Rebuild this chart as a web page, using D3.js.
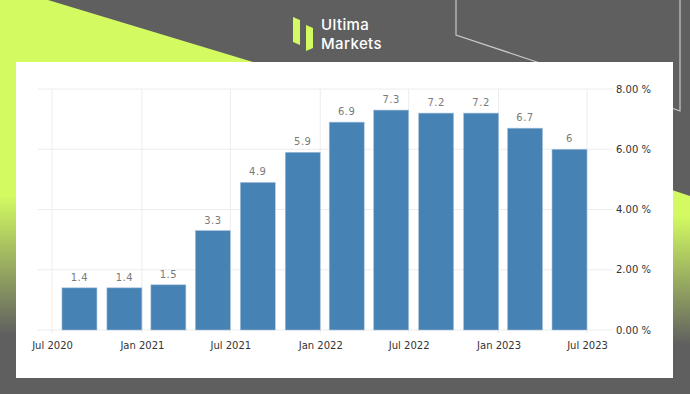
<!doctype html>
<html>
<head>
<script src="https://cdn.jsdelivr.net/npm/d3@7"></script>
<style>
  body { margin: 0; background: #5f5f5f; }
  svg { display: block; }
  .axis text { font-family: "DejaVu Sans", sans-serif; font-size: 10px; fill: #333; }
  .axis .domain { display: none; }
</style>
</head>
<body>
<svg width="690" height="394"></svg>
<script>
// quarterly readings, %
var dates = ["2020-10-01","2021-01-01","2021-04-01","2021-07-01","2021-10-01","2022-01-01",
             "2022-04-01","2022-07-01","2022-10-01","2023-01-01","2023-04-01","2023-07-01"];
var values = [1.4, 1.4, 1.5, 3.3, 4.9, 5.9, 6.9, 7.3, 7.2, 7.2, 6.7, 6];
var xTicks = ["2020-07-01","2021-01-01","2021-07-01","2022-01-01","2022-07-01","2023-01-01","2023-07-01"];
var yTicks = [0, 2, 4, 6, 8];

var parse = d3.timeParse("%Y-%m-%d");
var data = dates.map(function(d, i) { return {date: parse(d), value: values[i]}; });

var svg = d3.select("svg");
var lime = "#d3fb61", grey = "#5f5f5f";

// background
var defs = svg.append("defs");
var g1 = defs.append("linearGradient").attr("id", "leftFade")
  .attr("gradientUnits", "userSpaceOnUse").attr("x1", 0).attr("y1", 0).attr("x2", 0).attr("y2", 394);
g1.append("stop").attr("offset", 195/394).attr("stop-color", lime);
g1.append("stop").attr("offset", 335/394).attr("stop-color", grey);
var g2 = defs.append("linearGradient").attr("id", "rightFade")
  .attr("gradientUnits", "userSpaceOnUse").attr("x1", 0).attr("y1", 0).attr("x2", 0).attr("y2", 394);
g2.append("stop").attr("offset", 215/394).attr("stop-color", lime);
g2.append("stop").attr("offset", 345/394).attr("stop-color", grey);

svg.append("rect").attr("width", 690).attr("height", 394).attr("fill", grey);
svg.append("path").attr("d", "M0,0L48,0L253,62L253,394L0,394Z").attr("fill", "url(#leftFade)");
svg.append("path").attr("d", "M660,186L690,196L690,394L660,394Z").attr("fill", "url(#rightFade)");
svg.append("path").attr("d", "M456,0L456,35L540,63").attr("fill", "none").attr("stroke", "#c8c8c8").attr("stroke-width", 1.2);
svg.append("path").attr("d", "M680,0L680,111L660,104").attr("fill", "none").attr("stroke", "#c8c8c8").attr("stroke-width", 1.2);

// logo
var logo = svg.append("g");
logo.append("path").attr("d", "M293,17L300,20L300,45L293,42Z").attr("fill", lime);
logo.append("path").attr("d", "M306,25L313,28L313,48L306,51Z").attr("fill", lime);
logo.append("text").attr("x", 321).attr("y", 30).text("Ultima")
  .attr("fill", "#fff").attr("font-family", "Inter").attr("font-weight", 500)
  .attr("font-size", 15).attr("letter-spacing", 0.4);
logo.append("text").attr("x", 321).attr("y", 48.5).text("Markets")
  .attr("fill", "#fff").attr("font-family", "Inter").attr("font-weight", 500)
  .attr("font-size", 15).attr("letter-spacing", 0.4);

// panel
svg.append("rect").attr("x", 16).attr("y", 62).attr("width", 657).attr("height", 316).attr("fill", "#fff");

var xScale = d3.scaleTime().domain([parse("2020-07-01"), parse("2023-07-01")]).range([52, 587]);
var yScale = d3.scaleLinear().domain([0, 8]).range([330, 89]);

// grid
svg.append("g").selectAll("line.h").data(yTicks).enter().append("line")
  .attr("x1", 38).attr("x2", 613)
  .attr("y1", function(d) { return yScale(d); }).attr("y2", function(d) { return yScale(d); })
  .attr("stroke", "#ececec");
svg.append("g").selectAll("line.v").data(xTicks).enter().append("line")
  .attr("x1", function(d) { return xScale(parse(d)); }).attr("x2", function(d) { return xScale(parse(d)); })
  .attr("y1", 89).attr("y2", 333)
  .attr("stroke", "#ececec");

// axes
var xAxis = d3.axisBottom(xScale)
  .tickValues(xTicks.map(parse))
  .tickFormat(d3.timeFormat("%b %Y"))
  .tickSize(0).tickPadding(9);
svg.append("g").attr("class", "axis").attr("transform", "translate(0,333)").call(xAxis);

var yAxis = d3.axisRight(yScale)
  .tickValues(yTicks)
  .tickFormat(function(d) { return d3.format(".2f")(d) + " %"; })
  .tickSize(0).tickPadding(0);
svg.append("g").attr("class", "axis").attr("transform", "translate(616,0)").call(yAxis);

// bars
var barW = 35;
svg.append("g").selectAll("rect").data(data).enter().append("rect")
  .attr("x", function(d) { return xScale(d.date) - barW; })
  .attr("y", function(d) { return yScale(d.value); })
  .attr("width", barW)
  .attr("height", function(d) { return yScale(0) - yScale(d.value); })
  .attr("fill", "#4682b4")
  .attr("stroke", "#a9c4dd").attr("stroke-width", 0.6);

svg.append("g").selectAll("text").data(data).enter().append("text")
  .attr("x", function(d) { return xScale(d.date) - barW / 2; })
  .attr("y", function(d) { return yScale(d.value) - 7; })
  .attr("text-anchor", "middle")
  .attr("font-family", "DejaVu Sans").attr("font-size", 10)
  .attr("letter-spacing", 0.5)
  .attr("fill", "#7a7a7a")
  .text(function(d) { return d.value; });
</script>
</body>
</html>
